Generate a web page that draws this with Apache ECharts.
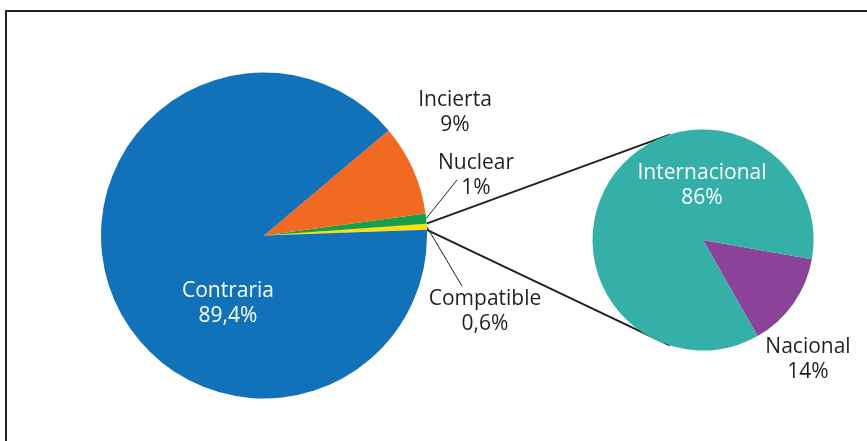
<!DOCTYPE html>
<html>
<head>
<meta charset="utf-8">
<script src="https://cdn.jsdelivr.net/npm/echarts@6/dist/echarts.min.js"></script>
<style>
html, body { margin: 0; padding: 0; background: #fff; }
#chart { width: 867px; height: 441px; }
</style>
</head>
<body>
<div id="chart"></div>
<script>
// pastel principal
var mainNames = ['Compatible', 'Nuclear', 'Incierta', 'Contraria']
var mainValues = [0.6, 1, 9, 89.4]
// desglose
var subNames = ['Nacional', 'Internacional']
var subValues = [14, 86]

var mainColors = ['#FFE000', '#17A04B', '#F26A21', '#1172BA']
var subColors = ['#8A4398', '#34B0A8']
var textColor = '#231F20'

var mainCenter = [264, 235.5]
var mainRadius = 163
var mainStart = 2 // antihorario
var subCenter = [703, 240]
var subRadius = 110.5
var subStart = -10 // horario

// centro del bloque de cada etiqueta
var labelPos = {
  Compatible: [485, 311.5],
  Nuclear: [476, 176],
  Incierta: [455, 112.5],
  Contraria: [228, 304],
  Nacional: [808, 360],
  Internacional: [702, 186]
}
// extremo de la linea guia
var guideEnd = {
  Nuclear: [457, 180],
  Compatible: [462, 286]
}

function sliceAngle (values, start, clockwise, idx, frac) {
  var total = 0
  var before = 0
  for (var i = 0; i < values.length; i++) {
    total += values[i]
    if (i < idx) before += values[i]
  }
  var a = (before + values[idx] * frac) / total * 360
  return clockwise ? start - a : start + a
}

function polar (c, r, deg) {
  var rad = deg * Math.PI / 180
  return [c[0] + r * Math.cos(rad), c[1] - r * Math.sin(rad)]
}

function fmt (p) {
  return p.name + '\n' + String(p.value).replace('.', ',') + '%'
}

function makeLayout (names, values, center, radius, start, clockwise) {
  return function (p) {
    var name = names[p.dataIndex]
    var pos = labelPos[name]
    var out = { x: pos[0], y: pos[1], align: 'center', verticalAlign: 'middle' }
    if (guideEnd[name]) {
      var ang = sliceAngle(values, start, clockwise, p.dataIndex, 0.5)
      out.labelLinePoints = [polar(center, radius, ang), guideEnd[name]]
    }
    return out
  }
}

function buildData (names, values, colors, innerNames) {
  var list = []
  for (var i = 0; i < names.length; i++) {
    var item = { name: names[i], value: values[i], itemStyle: { color: colors[i] } }
    if (innerNames.indexOf(names[i]) >= 0) {
      item.label = { color: '#fff' }
    }
    if (guideEnd[names[i]]) {
      item.labelLine = { show: true, lineStyle: { color: textColor, width: 1 } }
    }
    list.push(item)
  }
  return list
}

var labelStyle = {
  show: true,
  position: 'outside',
  formatter: fmt,
  fontFamily: 'Open Sans',
  fontSize: 21,
  lineHeight: 25,
  color: textColor,
  align: 'center'
}

// lineas que unen los dos pasteles
var lineTop = [polar(mainCenter, mainRadius, sliceAngle(mainValues, mainStart, false, 0, 1)), polar(subCenter, subRadius, 107.5)]
var lineBot = [polar(mainCenter, mainRadius, sliceAngle(mainValues, mainStart, false, 0, 0)), polar(subCenter, subRadius, -107.5)]

var chart = echarts.init(document.getElementById('chart'))
chart.setOption({
  animation: false,
  backgroundColor: '#fff',
  graphic: [
    {
      type: 'rect',
      shape: { x: 6, y: 11, width: 1000, height: 1000 },
      style: { fill: 'none', stroke: textColor, lineWidth: 2 },
      silent: true
    },
    {
      type: 'line',
      shape: { x1: lineTop[0][0], y1: lineTop[0][1], x2: lineTop[1][0], y2: lineTop[1][1] },
      style: { stroke: textColor, lineWidth: 2 },
      silent: true
    },
    {
      type: 'line',
      shape: { x1: lineBot[0][0], y1: lineBot[0][1], x2: lineBot[1][0], y2: lineBot[1][1] },
      style: { stroke: textColor, lineWidth: 2 },
      silent: true
    }
  ],
  series: [
    {
      type: 'pie',
      center: mainCenter,
      radius: mainRadius,
      startAngle: mainStart,
      clockwise: false,
      avoidLabelOverlap: false,
      label: labelStyle,
      labelLine: { show: false, length: 10, length2: 10 },
      labelLayout: makeLayout(mainNames, mainValues, mainCenter, mainRadius, mainStart, false),
      emphasis: { disabled: true },
      data: buildData(mainNames, mainValues, mainColors, ['Contraria'])
    },
    {
      type: 'pie',
      center: subCenter,
      radius: subRadius,
      startAngle: subStart,
      clockwise: true,
      avoidLabelOverlap: false,
      label: labelStyle,
      labelLine: { show: false },
      labelLayout: makeLayout(subNames, subValues, subCenter, subRadius, subStart, true),
      emphasis: { disabled: true },
      data: buildData(subNames, subValues, subColors, ['Internacional'])
    }
  ]
})
</script>
</body>
</html>
